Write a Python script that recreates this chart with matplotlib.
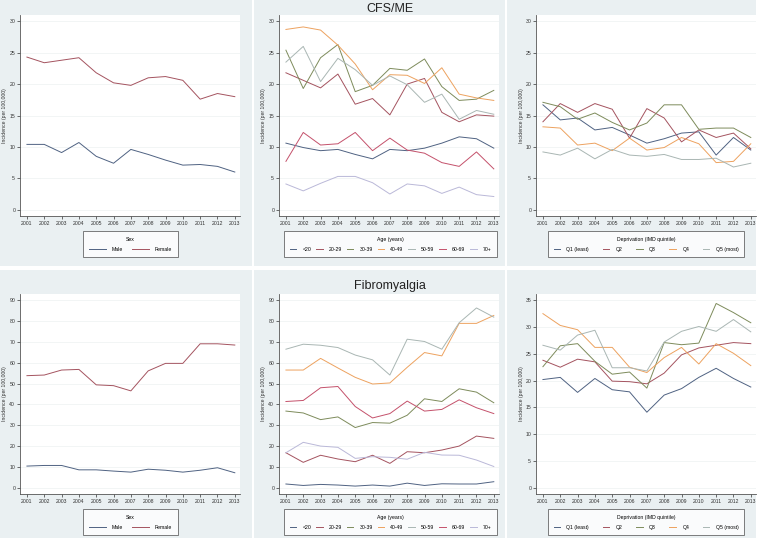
import matplotlib
matplotlib.use('Agg')
import matplotlib.pyplot as plt
from matplotlib.patches import Rectangle

plt.rcParams['font.family'] = ['Liberation Sans', 'DejaVu Sans']

years = list(range(2001, 2014))

# CFS/ME
cfs_sex = {
    'Male':   [10.4, 10.4, 9.1, 10.7, 8.5, 7.4, 9.6, 8.8, 7.9, 7.1, 7.2, 6.9, 6.0],
    'Female': [24.3, 23.4, 23.8, 24.2, 21.8, 20.2, 19.8, 21.0, 21.2, 20.6, 17.6, 18.5, 18.0],
}
cfs_age = {
    '<20':   [10.6, 9.9, 9.4, 9.6, 8.8, 8.1, 9.6, 9.4, 9.8, 10.6, 11.6, 11.3, 9.8],
    '20-29': [21.8, 20.6, 19.4, 21.6, 16.8, 17.7, 15.1, 20.0, 20.9, 15.5, 14.0, 15.1, 14.9],
    '30-39': [25.4, 19.3, 24.2, 26.3, 18.8, 19.8, 22.5, 22.2, 24.0, 19.6, 17.4, 17.6, 19.0],
    '40-49': [28.7, 29.1, 28.6, 26.2, 23.2, 19.1, 21.5, 21.4, 20.1, 22.6, 18.4, 17.8, 17.4],
    '50-59': [23.5, 26.0, 20.4, 24.1, 22.3, 19.8, 21.3, 19.9, 17.1, 18.4, 14.4, 15.8, 15.2],
    '60-69': [7.7, 12.3, 10.3, 10.5, 12.3, 9.4, 11.4, 9.5, 9.0, 7.5, 6.9, 9.2, 6.5],
    '70+':   [4.1, 3.0, 4.2, 5.3, 5.3, 4.3, 2.5, 4.1, 3.8, 2.6, 3.6, 2.4, 2.1],
}
cfs_dep = {
    'Q1 (least)': [16.7, 14.3, 14.6, 12.7, 13.1, 11.9, 10.6, 11.3, 12.2, 12.4, 8.7, 11.5, 9.5],
    'Q2':         [14.0, 16.9, 15.5, 16.9, 16.0, 11.4, 16.1, 14.6, 10.8, 12.7, 11.5, 12.2, 9.7],
    'Q3':         [17.1, 16.4, 14.4, 15.4, 13.9, 12.7, 13.8, 16.7, 16.7, 12.8, 13.0, 13.0, 11.5],
    'Q4':         [13.2, 13.0, 10.3, 10.6, 9.4, 11.4, 9.5, 9.9, 11.5, 10.5, 7.5, 7.7, 10.5],
    'Q5 (most)':  [9.2, 8.7, 9.8, 8.1, 9.6, 8.7, 8.5, 8.8, 8.0, 8.0, 8.2, 6.8, 7.4],
}

# Fibromyalgia
fm_sex = {
    'Male':   [10.4, 10.7, 10.7, 8.6, 8.6, 8.0, 7.5, 8.9, 8.4, 7.5, 8.4, 9.6, 7.2],
    'Female': [53.8, 54.1, 56.5, 56.8, 49.4, 49.0, 46.5, 56.1, 59.7, 59.7, 69.1, 69.1, 68.5],
}
fm_age = {
    '<20':   [1.8, 1.1, 1.6, 1.3, 0.8, 1.3, 0.8, 2.2, 1.1, 1.9, 1.8, 1.8, 2.9],
    '20-29': [16.8, 12.2, 15.6, 13.8, 12.5, 15.6, 11.7, 17.3, 16.8, 18.1, 20.0, 24.8, 23.7],
    '30-39': [36.8, 35.9, 32.7, 34.0, 28.9, 31.3, 31.0, 34.8, 42.7, 41.4, 47.5, 45.9, 40.8],
    '40-49': [56.5, 56.5, 62.1, 57.5, 53.0, 49.8, 50.3, 57.8, 64.9, 63.3, 78.9, 78.9, 82.7],
    '50-59': [66.5, 68.9, 68.4, 67.3, 63.7, 61.4, 54.1, 71.3, 70.2, 66.5, 79.2, 86.3, 81.9],
    '60-69': [41.4, 41.9, 48.0, 48.6, 39.0, 33.5, 35.6, 41.6, 36.8, 37.6, 42.2, 38.4, 35.6],
    '70+':   [16.8, 21.8, 20.0, 19.4, 14.1, 14.9, 14.6, 13.7, 17.0, 15.7, 15.6, 13.3, 10.2],
}
fm_dep = {
    'Q1 (least)': [20.2, 20.6, 17.8, 20.4, 18.3, 17.9, 14.1, 17.3, 18.5, 20.6, 22.3, 20.4, 18.8],
    'Q2':         [23.8, 22.5, 24.0, 23.5, 19.9, 19.8, 19.4, 21.4, 24.8, 26.1, 26.6, 27.1, 26.9],
    'Q3':         [22.6, 26.5, 26.9, 23.6, 21.2, 21.6, 18.6, 27.1, 26.7, 27.0, 34.4, 32.7, 30.8],
    'Q4':         [32.5, 30.3, 29.5, 26.2, 26.2, 22.5, 21.5, 24.3, 26.2, 23.1, 26.9, 25.1, 22.8],
    'Q5 (most)':  [26.6, 25.7, 28.5, 29.4, 22.4, 22.4, 21.8, 27.2, 29.2, 30.1, 29.2, 31.4, 29.1],
}

navy = '#4f6282'
maroon = '#a4535f'
green = '#7d8b5b'
orange = '#eda25f'
grey = '#a9b6b3'
cranberry = '#c4516b'
lavender = '#bab8d8'

sex_cols = [navy, maroon]
age_cols = [navy, maroon, green, orange, grey, cranberry, lavender]
dep_cols = [navy, maroon, green, orange, grey]

W, H = 760, 538
fig = plt.figure(figsize=(W / 100, H / 100), dpi=100)
fig.patch.set_facecolor('white')

bg = '#eaf0f2'
# panel backgrounds (pixels: x, y_top, w, h)
for (x, y, w, h) in [(0, 0, 252, 266), (254, 0, 251, 266), (507, 0, 249, 266),
                     (0, 270, 252, 268), (254, 270, 251, 268), (507, 270, 249, 268)]:
    fig.patches.append(Rectangle((x / W, 1 - (y + h) / H), w / W, h / H,
                                 transform=fig.transFigure, facecolor=bg,
                                 edgecolor='none', zorder=-10))


def panel(left, top, bottom, data, cols, ymax, ystep, leg_title, leg_box, hlen):
    width = 220
    ax = fig.add_axes([left / W, 1 - bottom / H, width / W, (bottom - top) / H])
    ax.set_facecolor('white')
    for (name, vals), c in zip(data.items(), cols):
        ax.plot(years, vals, color=c, lw=0.7, label=name)
    pad = ymax / 30
    ax.set_ylim(-pad, ymax + pad)
    ax.set_xlim(2000.6, 2013.3)
    ax.set_xticks(years)
    ax.set_yticks(range(0, ymax + 1, ystep))
    ax.tick_params(labelsize=3.7, length=2, width=0.5, pad=1.5, colors='#333333')
    ax.grid(axis='y', color='#edf1f2', lw=0.5)
    ax.set_axisbelow(True)
    for s in ['top', 'right']:
        ax.spines[s].set_visible(False)
    for s in ['left', 'bottom']:
        ax.spines[s].set_color('#555555')
        ax.spines[s].set_linewidth(0.6)
    fig.text((left - 15) / W, 1 - ((top + bottom) / 2) / H, 'Incidence (per 100,000)',
             rotation=90, ha='center', va='center', fontsize=3.7, color='#333333')
    lx, ly, lw_ = leg_box
    leg = ax.legend(loc='upper left', bbox_to_anchor=(lx / W, 1 - ly / H, lw_ / W, 0.001),
                    bbox_transform=fig.transFigure, mode='expand', ncol=len(data),
                    title=leg_title, fontsize=3.7, title_fontsize=3.7,
                    frameon=True, fancybox=False, handlelength=hlen,
                    borderpad=1.1, borderaxespad=0, handletextpad=1.2,
                    labelspacing=0.9)
    leg.get_frame().set_edgecolor('#444444')
    leg.get_frame().set_linewidth(0.6)
    leg.get_frame().set_facecolor('white')
    return ax


panel(20, 15, 216, cfs_sex, sex_cols, 30, 5, 'Sex', (83, 232, 95), 3.3)
panel(279, 15, 216, cfs_age, age_cols, 30, 5, 'Age (years)', (284, 232, 213), 1.3)
panel(536, 15, 216, cfs_dep, dep_cols, 30, 5, 'Deprivation (IMD quintile)', (548, 232, 196), 1.3)

panel(20, 294, 494, fm_sex, sex_cols, 90, 10, 'Sex', (83, 510, 95), 3.3)
panel(279, 294, 494, fm_age, age_cols, 90, 10, 'Age (years)', (284, 510, 213), 1.3)
panel(536, 294, 494, fm_dep, dep_cols, 35, 5, 'Deprivation (IMD quintile)', (548, 510, 196), 1.3)

fig.text(390 / W, 1 - 9 / H, 'CFS/ME', ha='center', va='center', fontsize=9, color='#222222')
fig.text(390 / W, 1 - 286 / H, 'Fibromyalgia', ha='center', va='center', fontsize=9, color='#222222')

fig.savefig('out.png', dpi=100)
